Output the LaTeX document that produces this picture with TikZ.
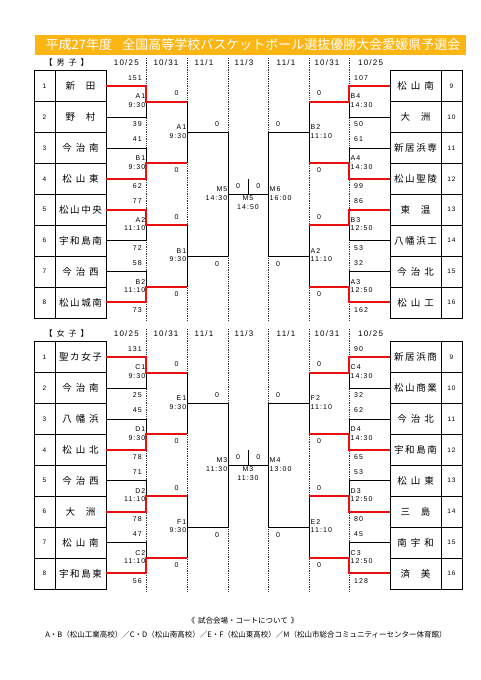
\documentclass[tikz,border=0pt]{standalone}
\usepackage{fontspec}
\setmainfont{Liberation Sans}
\newfontfamily\jp{Noto Sans CJK JP}
\newfontfamily\numf[LetterSpace=15]{Liberation Sans}
\definecolor{titleorange}{RGB}{252,182,20}
\definecolor{winred}{RGB}{232,16,16}
\newcommand\twoc[2]{#1\hspace{11pt}#2}
\newcommand\threec[3]{#1\hspace{4pt}#2\hspace{4pt}#3}
\newcommand\fourc[4]{#1\hspace{1.6pt}#2\hspace{1.6pt}#3\hspace{1.6pt}#4}
\def\hh{30.9}
\tikzset{
  numcell/.style={draw, line width=0.8pt, minimum width=21pt, minimum height=30.9pt, inner sep=0pt, outer sep=0pt, font=\numf\fontsize{6.5}{7}\selectfont},
  namecell/.style={draw, line width=0.8pt, minimum width=51pt, minimum height=30.9pt, inner sep=0pt, outer sep=0pt, font=\jp\fontsize{9.5}{10}\selectfont},
  lose/.style={line width=0.7pt, black},
  win/.style={line width=2pt, winred},
  dashcol/.style={line width=0.7pt, dash pattern=on 1.3pt off 1pt, black!80},
  lbl/.style={font=\numf\fontsize{7}{8.7}\selectfont, inner sep=0pt},
  datelbl/.style={font=\numf\fontsize{8}{9}\selectfont, inner sep=0pt},
}
\newcommand\drawsection[1]{%
  % dashed column separators
  \foreach \xx in {146,187,228,268,309,349}
    \draw[dashcol] (\xx,\yo-13) -- (\xx,\yo+251);
  % headers
  \node[datelbl] (#1head) at (66.7,\yo-8.4) {\jp【\hspace{4pt}\sexlabel\hspace{4pt}子\hspace{4pt}】};
  \foreach \xx/\mm/\dd [count=\c] in {126.3/10/25, 166/10/31, 204/11/1, 244/11/3, 286/11/1, 327/10/31, 370.6/10/25}
    \node[datelbl] (#1date\c) at (\xx,\yo-8.4) {\mm/\dd};
  % tables
  \foreach \i/\nm in \Lnames {
    \node[numcell] (#1Ln\i) at (44.5,{\yo+(\i-0.5)*\hh}) {\i};
    \node[namecell] (#1L\i) at (80.5,{\yo+(\i-0.5)*\hh}) {\nm};
  }
  \foreach \i/\nm in \Rnames {
    \pgfmathtruncatemacro\num{\i+8}
    \node[namecell] (#1R\i) at (415.5,{\yo+(\i-0.5)*\hh}) {\nm};
    \node[numcell] (#1Rn\i) at (451.5,{\yo+(\i-0.5)*\hh}) {\num};
  }
  % junctions
  \foreach \k in {1,...,4} {
    \coordinate (#1La\k) at (146,{\yo+(2*\k-1)*\hh});
    \coordinate (#1Lb\k) at (187,{\yo+(2*\k-1)*\hh});
    \coordinate (#1Ra\k) at (349,{\yo+(2*\k-1)*\hh});
    \coordinate (#1Rb\k) at (309,{\yo+(2*\k-1)*\hh});
  }
  \foreach \j in {1,2} {
    \coordinate (#1Lc\j) at (187,{\yo+(4*\j-2)*\hh});
    \coordinate (#1Ld\j) at (228,{\yo+(4*\j-2)*\hh});
    \coordinate (#1Rc\j) at (309,{\yo+(4*\j-2)*\hh});
    \coordinate (#1Rd\j) at (268,{\yo+(4*\j-2)*\hh});
  }
  \coordinate (#1Le) at (228,{\yo+4*\hh});
  \coordinate (#1Re) at (268,{\yo+4*\hh});
  \coordinate (#1F) at (248,{\yo+4*\hh});
  \coordinate (#1Ft) at (248,{\yo+4*\hh-15.5});
  % losing / pending lines
  \foreach \k/\w/\l in \Lres { \draw[lose] (#1L\l) -| (#1La\k); }
  \foreach \k/\w/\l in \Rres { \draw[lose] (#1R\l) -| (#1Ra\k); }
  \draw[lose] (#1Lb1) -- (#1Lb2) (#1Lb3) -- (#1Lb4)
              (#1Lc1) -- (#1Ld1) (#1Lc2) -- (#1Ld2) (#1Ld1) -- (#1Ld2);
  \draw[lose] (#1Rb1) -- (#1Rb2) (#1Rb3) -- (#1Rb4)
              (#1Rc1) -- (#1Rd1) (#1Rc2) -- (#1Rd2) (#1Rd1) -- (#1Rd2);
  \draw[lose] (#1Le) -- (#1Re) (#1F) -- (#1Ft);
  % winners
  \foreach \k/\w/\l in \Lres { \draw[win] (#1L\w) -| (#1La\k) -- (#1Lb\k); }
  \foreach \k/\w/\l in \Rres { \draw[win] (#1R\w) -| (#1Ra\k) -- (#1Rb\k); }
  % first-round scores
  \foreach \a/\b [count=\k] in \Lsc {
    \node[lbl, anchor=east] (#1Lsa\k) at (142,{\yo+(2*\k-1.5)*\hh-8.5}) {\a};
    \node[lbl, anchor=east] (#1Lsb\k) at (142,{\yo+(2*\k-0.5)*\hh+7.5}) {\b};
  }
  \foreach \a/\b [count=\k] in \Rsc {
    \node[lbl, anchor=west] (#1Rsa\k) at (354,{\yo+(2*\k-1.5)*\hh-8.5}) {\a};
    \node[lbl, anchor=west] (#1Rsb\k) at (354,{\yo+(2*\k-0.5)*\hh+7.5}) {\b};
  }
  % first-round codes
  \foreach \cc/\tt [count=\k] in \Lcode
    \node[lbl, anchor=east, align=right] (#1Lcode\k) at (145.5,{\yo+(2*\k-1)*\hh-1}) {\cc\\\tt};
  \foreach \cc/\tt [count=\k] in \Rcode
    \node[lbl, anchor=west, align=left] (#1Rcode\k) at (350.5,{\yo+(2*\k-1)*\hh-1}) {\cc\\\tt};
  % second round
  \foreach \j in {1,2} {
    \node[lbl] (#1Ltwa\j) at (176.5,{\yo+(4*\j-3)*\hh-8.5}) {0};
    \node[lbl] (#1Ltwb\j) at (176.5,{\yo+(4*\j-1)*\hh+7}) {0};
    \node[lbl] (#1Rtwa\j) at (319,{\yo+(4*\j-3)*\hh-8.5}) {0};
    \node[lbl] (#1Rtwb\j) at (319,{\yo+(4*\j-1)*\hh+7}) {0};
  }
  \foreach \cc/\tt [count=\j] in \Lcodeb
    \node[lbl, anchor=east, align=right] (#1Lcodeb\j) at (186.5,{\yo+(4*\j-2)*\hh-1}) {\cc\\\tt};
  \foreach \cc/\tt [count=\j] in \Rcodeb
    \node[lbl, anchor=west, align=left] (#1Rcodeb\j) at (310.5,{\yo+(4*\j-2)*\hh-1}) {\cc\\\tt};
  % semifinals
  \node[lbl] (#1Lsemia) at (217,{\yo+2*\hh-8.5}) {0};
  \node[lbl] (#1Lsemib) at (217,{\yo+6*\hh+8}) {0};
  \node[lbl] (#1Rsemia) at (278,{\yo+2*\hh-8.5}) {0};
  \node[lbl] (#1Rsemib) at (278,{\yo+6*\hh+8}) {0};
  \node[lbl, anchor=east, align=right] (#1Lsemic) at (227.5,{\yo+4*\hh-1}) {\Lsemi};
  \node[lbl, anchor=west, align=left] (#1Rsemic) at (269.5,{\yo+4*\hh-1}) {\Rsemi};
  % final
  \node[lbl] (#1Fa) at (238,{\yo+4*\hh-8.5}) {0};
  \node[lbl] (#1Fb) at (258.3,{\yo+4*\hh-8.5}) {0};
  \node[lbl, align=center] (#1Fc) at (248,{\yo+4*\hh+8.2}) {\Fcode};
}
\begin{document}
\begin{tikzpicture}[x=1pt,y=-1pt]
\fill[white] (0,0) rectangle (481,680);
\useasboundingbox (0,0) rectangle (481,680);
\node[fill=titleorange, minimum width=431pt, minimum height=20pt, inner sep=0pt, outer sep=0pt] (titlebar) at (250.5,45) {};
\node[font=\jp\fontsize{13}{14}\selectfont, text=white, inner sep=0pt] (title) at (253,45) {平成27年度\hspace{0.8em}全国高等学校バスケットボール選抜優勝大会愛媛県予選会};
% ---- boys ----
\def\yo{70.7}
\def\sexlabel{男}
\def\Lnames{1/\twoc{新}{田}, 2/\twoc{野}{村}, 3/\threec{今}{治}{南}, 4/\threec{松}{山}{東}, 5/\fourc{松}{山}{中}{央}, 6/\fourc{宇}{和}{島}{南}, 7/\threec{今}{治}{西}, 8/\fourc{松}{山}{城}{南}}
\def\Rnames{1/\threec{松}{山}{南}, 2/\twoc{大}{洲}, 3/\fourc{新}{居}{浜}{専}, 4/\fourc{松}{山}{聖}{陵}, 5/\twoc{東}{温}, 6/\fourc{八}{幡}{浜}{工}, 7/\threec{今}{治}{北}, 8/\threec{松}{山}{工}}
\def\Lres{1/1/2, 2/4/3, 3/5/6, 4/8/7}
\def\Rres{1/1/2, 2/4/3, 3/5/6, 4/8/7}
\def\Lsc{151/39, 41/62, 77/72, 58/73}
\def\Rsc{107/50, 61/99, 86/53, 32/162}
\def\Lcode{A1/9:30, B1/9:30, A2/11:10, B2/11:10}
\def\Rcode{B4/14:30, A4/14:30, B3/12:50, A3/12:50}
\def\Lcodeb{A1/9:30, B1/9:30}
\def\Rcodeb{B2/11:10, A2/11:10}
\def\Lsemi{M5\\14:30}
\def\Rsemi{M6\\16:00}
\def\Fcode{M5\\14:50}
\drawsection{B}
% ---- girls ----
\def\yo{341.7}
\def\sexlabel{女}
\def\Lnames{1/\fourc{聖}{カ}{女}{子}, 2/\threec{今}{治}{南}, 3/\threec{八}{幡}{浜}, 4/\threec{松}{山}{北}, 5/\threec{今}{治}{西}, 6/\twoc{大}{洲}, 7/\threec{松}{山}{南}, 8/\fourc{宇}{和}{島}{東}}
\def\Rnames{1/\fourc{新}{居}{浜}{商}, 2/\fourc{松}{山}{商}{業}, 3/\threec{今}{治}{北}, 4/\fourc{宇}{和}{島}{南}, 5/\threec{松}{山}{東}, 6/\twoc{三}{島}, 7/\threec{南}{宇}{和}, 8/\twoc{済}{美}}
\def\Lres{1/1/2, 2/4/3, 3/6/5, 4/8/7}
\def\Rres{1/1/2, 2/4/3, 3/6/5, 4/8/7}
\def\Lsc{131/25, 45/78, 71/78, 47/56}
\def\Rsc{90/32, 62/65, 53/80, 45/128}
\def\Lcode{C1/9:30, D1/9:30, D2/11:10, C2/11:10}
\def\Rcode{C4/14:30, D4/14:30, D3/12:50, C3/12:50}
\def\Lcodeb{E1/9:30, F1/9:30}
\def\Rcodeb{F2/11:10, E2/11:10}
\def\Lsemi{M3\\11:30}
\def\Rsemi{M4\\13:00}
\def\Fcode{M3\\11:30}
\drawsection{G}
% ---- footer ----
\node[font=\jp\fontsize{7.5}{8}\selectfont, inner sep=0pt] (foot1) at (243,621) {《\hspace{3pt}試合会場・コートについて\hspace{3pt}》};
\node[font=\jp\fontsize{7.5}{8}\selectfont, inner sep=0pt] (foot2) at (246,635) {A・B（松山工業高校）／C・D（松山南高校）／E・F（松山東高校）／M（松山市総合コミュニティーセンター体育館）};
\end{tikzpicture}
\end{document}
